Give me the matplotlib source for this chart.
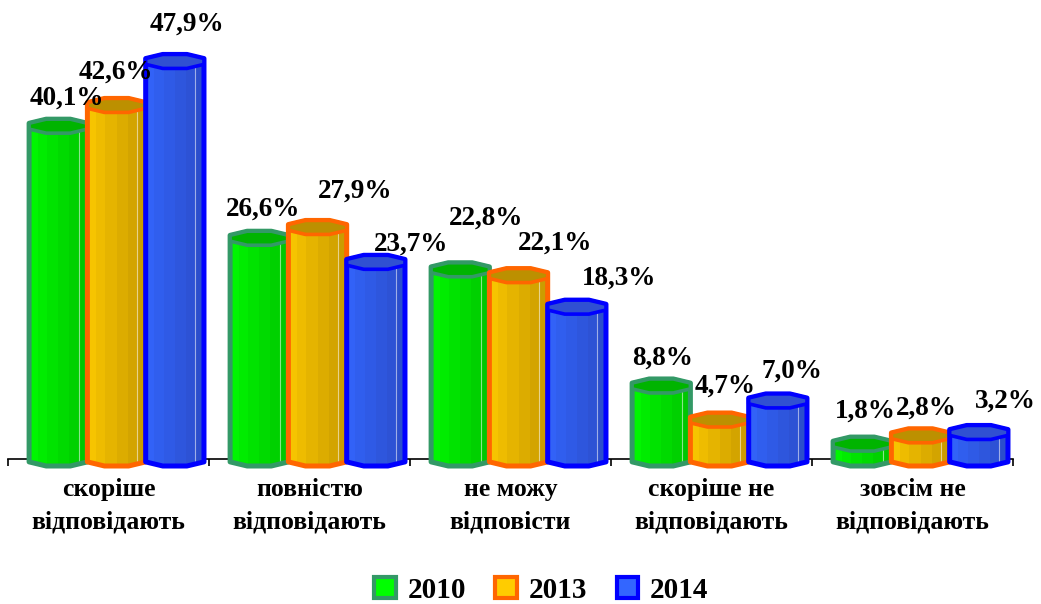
import numpy as np
import matplotlib
matplotlib.use("Agg")
import matplotlib.pyplot as plt
from matplotlib.colors import to_rgb
from matplotlib.patches import Polygon, Rectangle

plt.rcParams["font.family"] = ["Liberation Serif", "DejaVu Serif"]
plt.rcParams["font.weight"] = "bold"

categories = [
    "скоріше\nвідповідають",
    "повністю\nвідповідають",
    "не можу\nвідповісти",
    "скоріше не\nвідповідають",
    "зовсім не\nвідповідають",
]
years = ["2010", "2013", "2014"]
values_2010 = [40.1, 26.6, 22.8, 8.8, 1.8]
values_2013 = [42.6, 27.9, 22.1, 4.7, 2.8]
values_2014 = [47.9, 23.7, 18.3, 7.0, 3.2]
series = [values_2010, values_2013, values_2014]

# colours: light face, dark face, outline, top cap
light = ["#00FF00", "#FFCC00", "#3366FF"]
dark = ["#00BE00", "#C29400", "#2A4AC4"]
edge = ["#339966", "#FF6600", "#0000FF"]
cap = ["#00B400", "#BC9000", "#3050D2"]

# label offsets in pixels (dx, dy) from the top of each bar, as placed in the original
label_dx = [[9, -1, 12], [4, 38, 35], [26, 37, 42], [1, 6, 14], [3, 6, 27]]
label_dy = [[21, 27, 31], [23, 30, 12], [45, 26, 22], [21, 27, 23], [26, 21, 25]]

W, H = 1041, 604
px_per_unit = 8.3
fig = plt.figure(figsize=(W / 100, H / 100), dpi=100)
ax = fig.add_axes([8 / W, 0, 1005 / W, 1])
ax.set_xlim(-0.5, len(categories) - 0.5)
ax.set_ylim(-(H - 459) / px_per_unit, 459 / px_per_unit)

bar_w = 0.29
shift = 0.04
ey = 7 / px_per_unit  # half height of the cylinder ends, data units


def octagon(xc, y, w):
    ang = np.deg2rad(np.arange(8) * 45 + 22.5)
    px = xc + w / 2 * np.cos(ang) / np.cos(np.deg2rad(22.5))
    py = y + ey * np.sin(ang) / np.sin(np.deg2rad(67.5))
    return px, py


def draw_bar(xc, h, j, z):
    bx, by = octagon(xc, 0, bar_w)
    tx, ty = octagon(xc, h, bar_w)
    # silhouette: bottom front half, right side, top back half, left side
    pts = [(bx[i], by[i]) for i in [4, 5, 6, 7]] + \
          [(tx[i], ty[i]) for i in [7, 0, 1, 2, 3, 4]]
    body = Polygon(pts, closed=True, facecolor="none", edgecolor="none", zorder=z)
    ax.add_patch(body)

    c0, c1 = np.array(to_rgb(light[j])), np.array(to_rgb(dark[j]))
    nf = 8
    xb = xc - bar_w / 2 * np.cos(np.deg2rad(np.arange(nf + 1) * 180 / nf))
    for k in range(nf):
        t = k / (nf - 1)
        col = c0 * (1 - t) + c1 * t
        r = Rectangle((xb[k], -2 * ey), xb[k + 1] - xb[k], h + 4 * ey,
                      facecolor=col, edgecolor="none", zorder=z + 0.1)
        ax.add_patch(r)
        r.set_clip_path(body)
    hl = ax.plot([xb[6], xb[6]], [-2 * ey, h + 2 * ey], color="white", alpha=0.55,
                 lw=0.8, zorder=z + 0.2)[0]
    hl.set_clip_path(body)

    ax.add_patch(Polygon(pts, closed=True, facecolor="none", edgecolor=edge[j],
                         lw=3.6, joinstyle="round", zorder=z + 0.3))
    ax.add_patch(Polygon(np.column_stack([tx, ty]), closed=True, facecolor=cap[j],
                         edgecolor=edge[j], lw=2.6, joinstyle="round", zorder=z + 0.4))


x = np.arange(len(categories))
for i in range(len(categories)):
    for j, vals in enumerate(series):
        xc = x[i] + (j - 1) * bar_w + shift
        draw_bar(xc, vals[i], j, 3 + i + j * 0.5)
        ax.annotate(f"{vals[i]:.1f}%".replace(".", ","), (xc, vals[i]),
                    xytext=(label_dx[i][j], label_dy[i][j]), textcoords="offset pixels",
                    ha="center", va="baseline", fontsize=19.5, fontweight="bold",
                    zorder=20, annotation_clip=False)

for s in ["top", "left", "right"]:
    ax.spines[s].set_visible(False)
ax.spines["bottom"].set_position(("data", 0))
ax.spines["bottom"].set_linewidth(1.2)
ax.patch.set_visible(False)
ax.set_yticks([])
ax.set_xticks(np.arange(len(categories) + 1) - 0.5)
ax.set_xticklabels([])
ax.tick_params(axis="x", which="major", direction="out", length=5, width=1.2)
ax.set_xticks(x, minor=True)
ax.set_xticklabels(categories, minor=True, fontsize=18.5, fontweight="bold",
                   linespacing=1.5)
ax.tick_params(axis="x", which="minor", length=0, pad=14)

handles = [Rectangle((0, 0), 1, 1, facecolor=light[j], edgecolor=edge[j], lw=3)
           for j in range(len(years))]
fig.legend(handles, years, loc="center", bbox_to_anchor=(0.52, 0.023),
           ncol=3, frameon=False, prop={"size": 21, "weight": "bold"},
           handlelength=0.75, handleheight=0.75, handletextpad=0.4,
           columnspacing=1.0)

fig.savefig("out.png", dpi=100)
